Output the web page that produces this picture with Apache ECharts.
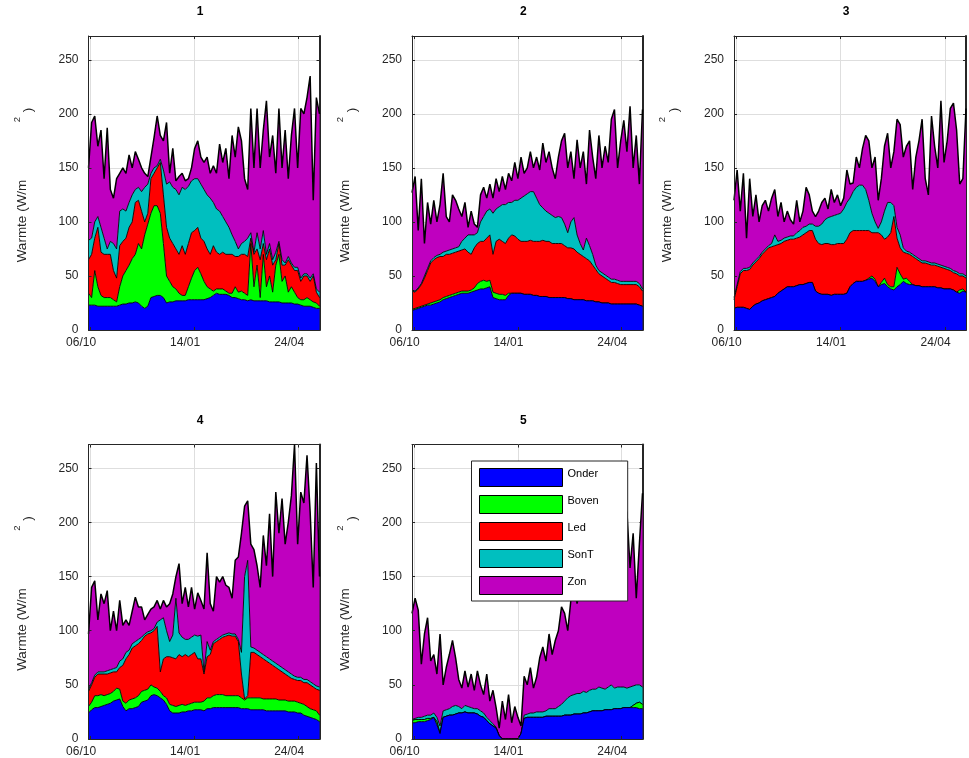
<!DOCTYPE html>
<html><head><meta charset="utf-8">
<script src="https://cdn.jsdelivr.net/npm/echarts@6/dist/echarts.min.js"></script>
<style>html,body{margin:0;padding:0;background:#fff}#chart{width:969px;height:758px}</style>
</head><body><div id="chart"></div>
<script>
// x positions: days relative to 06/10, sampled every 3 days
const startDay = -2;
const stepDays = 3;
const xMin = -2, xMax = 220;
const xTickDays = [0, 100, 200];
const xTickLabels = {0: '06/10', 100: '14/01', 200: '24/04'};
const yMin = 0, yMax = 272;
const yTicks = [0, 50, 100, 150, 200, 250];
const seriesNames = ['Onder', 'Boven', 'Led', 'SonT', 'Zon'];
const seriesColors = ['#0000ff', '#00ff00', '#ff0000', '#00bfbf', '#bf00bf'];
const panelTitles = ['1', '2', '3', '4', '5'];
const yLabelMain = 'Warmte (W/m';

// ---- panel 1 ----
const p1Onder = [23,23,23,22,22,22,22,22,22,22,23,24,24,25,25,26,25,22,20,22,30,31,32,32,30,25,26,26,27,27,27,27,28,28,28,28,28,28,29,30,32,34,33,33,33,32,30,30,29,28,28,27,28,27,27,27,27,27,26,26,26,26,25,25,25,25,24,24,23,22,22,22,21,20,20];
const p1Boven = [11,7,32,18,10,8,8,8,6,4,17,26,31,35,41,44,55,53,68,76,78,84,83,76,50,25,19,14,11,7,5,5,12,20,27,30,24,17,11,8,4,4,5,5,3,2,4,10,6,8,6,5,52,13,33,3,43,13,24,9,34,44,20,25,10,15,11,6,5,6,8,6,5,5,2];
const p1Led = [31,40,30,55,40,40,40,40,27,22,38,32,30,35,34,48,40,35,12,10,32,30,35,47,45,45,40,40,37,36,46,38,40,42,37,37,33,37,35,32,42,34,32,34,34,36,36,28,33,34,36,36,5,30,15,35,10,25,25,25,5,10,15,10,30,20,20,25,17,22,20,17,24,10,8];
const p1SonT = [18,15,15,10,23,15,5,12,25,27,32,30,25,23,25,12,12,18,32,27,5,5,2,3,23,40,52,52,55,55,54,60,53,48,48,45,50,48,50,52,40,40,40,33,30,25,18,14,7,10,12,17,5,2,15,10,12,5,5,5,7,2,5,2,3,2,3,3,3,2,2,3,2,3,5];
const p1Zon = [67,107,98,65,90,55,112,48,42,65,35,38,35,44,25,35,26,22,13,7,15,28,46,22,27,57,8,36,8,17,13,8,7,12,28,35,25,25,35,23,34,33,62,50,68,45,92,78,113,95,58,45,115,78,115,75,93,142,80,115,73,123,85,123,72,118,147,92,157,148,163,187,68,177,165];

// ---- panel 2 ----
const p2Onder = [18,19,20,21,22,23,23,24,25,26,28,29,30,31,32,33,34,34,34,35,36,37,38,38,39,40,30,29,28,28,28,32,34,34,34,34,33,33,33,32,32,31,31,31,30,30,30,30,30,30,29,29,28,28,28,28,27,27,27,26,26,25,25,25,24,24,24,24,24,24,24,24,24,23,22];
const p2Boven = [1,1,1,1,1,1,2,2,2,2,2,2,2,2,2,2,2,2,2,2,3,6,7,8,6,6,5,5,5,5,4,2,0,0,0,0,0,0,0,0,0,0,0,0,0,0,0,0,0,0,0,0,0,0,0,0,0,0,0,0,0,0,0,0,0,0,0,0,0,0,0,0,0,0,0];
const p2Led = [17,15,17,20,25,31,37,39,40,40,38,39,38,38,38,38,38,39,36,33,37,37,37,36,40,42,35,48,51,49,48,51,54,53,50,48,49,49,50,50,50,51,52,51,52,50,50,50,50,48,47,47,47,44,42,40,39,37,33,30,26,25,23,21,20,20,19,18,18,18,18,18,18,17,14];
const p2SonT = [1,1,1,1,2,2,2,2,2,2,4,3,4,4,4,4,8,10,16,18,12,10,18,23,25,24,38,30,30,34,36,33,30,33,36,40,42,44,45,46,40,34,30,28,26,26,24,25,24,20,14,24,29,16,10,6,19,14,10,4,3,3,3,3,3,3,3,3,3,3,3,3,3,3,2];
const p2Zon = [90,106,53,97,30,61,34,53,31,46,73,32,26,50,44,35,23,33,7,22,10,5,25,27,12,23,14,28,14,26,14,27,20,35,20,38,21,24,37,22,38,32,60,45,57,44,36,55,71,84,60,65,36,88,70,91,50,107,90,80,125,97,119,106,148,157,104,130,149,120,162,105,135,92,166];

// ---- panel 3 ----
const p3Onder = [20,21,21,21,20,19,22,24,25,27,28,29,30,31,34,36,38,40,40,40,41,42,42,43,44,44,36,34,33,33,33,32,33,33,33,33,34,40,43,45,45,45,46,47,48,45,40,42,43,40,38,37,40,42,45,43,42,42,41,41,40,40,40,40,40,39,39,38,38,38,37,35,34,36,35];
const p3Boven = [0,0,0,0,0,0,0,0,0,0,0,0,0,0,0,0,0,0,0,0,0,0,0,0,0,0,0,0,0,0,0,0,0,0,0,0,0,0,0,0,0,0,0,1,2,2,0,2,5,2,2,3,18,10,2,5,3,0,0,0,0,0,0,0,0,0,0,0,0,0,0,0,3,2,0];
const p3Led = [8,19,31,34,35,37,38,39,41,43,45,47,47,47,45,44,44,43,44,44,44,44,46,47,48,48,48,46,46,47,47,47,46,47,47,47,50,50,49,47,47,47,46,44,40,43,50,44,36,44,50,65,27,24,25,23,25,26,25,23,22,22,21,20,20,20,19,19,18,17,16,17,13,12,13];
const p3SonT = [2,2,2,2,2,2,2,2,2,2,2,2,3,10,3,3,3,3,3,3,5,6,7,6,6,6,12,16,19,22,24,26,27,27,28,32,34,32,36,40,42,42,38,28,18,10,4,12,26,32,28,10,10,12,4,2,2,2,2,2,2,2,2,2,2,2,2,2,2,2,2,2,2,2,2];
const p3Zon = [90,106,56,88,28,82,43,60,32,43,45,32,42,42,23,35,15,24,15,11,30,8,15,36,27,12,9,14,20,20,8,25,12,18,7,10,30,13,8,28,16,34,50,55,42,60,26,40,60,64,32,50,100,102,84,97,103,60,92,109,131,76,62,136,108,89,152,96,117,148,155,131,83,88,155];

// ---- panel 4 ----
const p4Onder = [24,27,29,29,30,31,32,33,35,36,37,30,26,28,28,29,30,34,35,36,40,41,40,38,36,32,26,24,24,24,25,25,26,26,27,27,27,26,28,28,29,29,29,29,29,29,29,29,29,28,28,28,27,27,27,27,27,26,26,26,26,26,26,26,25,25,25,24,24,22,21,20,19,18,16];
const p4Boven = [6,7,11,11,11,9,9,9,9,11,9,5,7,8,9,9,10,10,10,10,10,7,7,6,4,6,6,7,6,7,7,6,6,7,7,7,7,9,10,10,11,12,12,12,11,11,11,11,11,10,8,10,11,11,11,11,10,11,11,11,11,10,10,10,10,10,10,10,9,10,9,8,8,8,6];
const p4Led = [14,16,17,20,19,20,19,19,18,15,20,33,41,42,47,48,48,47,50,51,48,52,57,18,34,38,44,44,44,47,44,47,44,45,46,40,40,25,38,40,48,49,51,53,55,56,55,55,50,22,1,2,42,42,40,38,37,35,33,31,29,28,26,24,23,21,20,20,21,20,22,22,21,20,23];
const p4SonT = [2,2,2,2,2,2,3,3,3,4,6,6,6,4,4,4,4,3,2,2,2,2,4,48,38,24,14,21,56,20,18,14,16,16,16,21,22,2,14,4,2,2,2,2,2,2,2,2,2,20,113,125,5,4,4,4,4,4,4,4,4,4,4,4,4,4,3,3,3,3,3,3,3,3,3];
const p4Zon = [51,88,87,48,72,63,74,36,53,34,56,31,30,23,30,41,30,28,13,16,20,20,20,10,16,22,35,38,20,64,31,48,30,46,24,40,32,58,82,43,28,58,51,54,45,42,33,68,76,110,65,55,95,91,78,60,110,84,134,78,158,122,156,116,138,165,214,123,171,163,207,157,89,206,102];

// ---- panel 5 ----
const p5Onder = [15,15,16,16,16,17,18,20,13,5,20,21,22,22,23,24,24,25,24,24,24,23,21,20,17,14,12,10,3,0,0,0,0,0,0,5,19,20,20,20,20,20,20,21,21,21,21,21,21,22,22,22,23,23,23,24,24,25,26,26,26,26,27,27,27,28,28,28,29,29,29,29,29,28,28];
const p5Boven = [2,3,2,2,2,2,1,0,3,0,0,0,0,0,0,0,0,0,0,0,0,0,0,0,0,0,0,0,0,0,0,0,0,0,0,0,0,0,0,0,0,0,0,0,0,0,0,0,0,0,0,0,0,0,0,0,0,0,0,0,0,0,0,0,0,0,0,0,0,0,0,2,4,6,4];
const p5Led = [0,0,0,0,0,0,0,0,0,0,0,0,0,0,0,0,0,0,0,0,0,0,0,0,0,0,0,0,0,0,0,0,0,0,0,0,0,0,0,0,0,0,0,0,0,0,0,0,0,0,0,0,0,0,0,0,0,0,0,0,0,0,0,0,0,0,0,0,0,0,0,0,0,0,0];
const p5SonT = [1,1,2,2,3,3,3,4,4,7,6,6,6,8,8,6,4,6,6,5,4,5,5,4,3,3,2,1,0,0,0,0,0,0,0,0,3,3,4,4,5,5,5,5,7,7,7,9,11,13,16,18,18,19,19,20,19,20,20,20,22,21,19,21,23,19,20,20,19,18,19,18,17,16,16];
const p5Zon = [98,111,99,49,76,90,50,54,40,85,24,39,50,61,44,25,19,32,18,31,17,35,24,17,40,18,31,18,7,35,18,41,15,30,20,7,36,27,42,23,32,50,60,46,69,50,63,70,90,81,62,88,99,83,98,86,91,105,119,104,127,113,139,122,140,113,132,152,127,163,110,141,80,130,179];

const panels = [
  [p1Onder, p1Boven, p1Led, p1SonT, p1Zon],
  [p2Onder, p2Boven, p2Led, p2SonT, p2Zon],
  [p3Onder, p3Boven, p3Led, p3SonT, p3Zon],
  [p4Onder, p4Boven, p4Led, p4SonT, p4Zon],
  [p5Onder, p5Boven, p5Led, p5SonT, p5Zon]
];

// ---- layout (pixels) ----
const FONT = '"Liberation Sans", Arial, Helvetica, sans-serif';
const TXT = '#262626';
const GRIDC = '#dedede';
const layout = [
  {left: 88.5, top: 36, width: 231, height: 294},
  {left: 412, top: 36, width: 230.5, height: 294},
  {left: 734, top: 36, width: 232, height: 294},
  {left: 88.5, top: 444.5, width: 231, height: 294.5},
  {left: 412, top: 444.5, width: 230.5, height: 294.5}
];
const tickLenUnits = 2.8; // ~3 px inward tick marks, in y units

const option = {
  animation: false,
  backgroundColor: '#ffffff',
  textStyle: {fontFamily: FONT},
  grid: [], xAxis: [], yAxis: [], series: [], graphic: [],
  legend: {
    show: true,
    data: seriesNames,
    orient: 'vertical',
    left: 471.5, top: 461,
    z: 30,
    icon: 'rect',
    itemWidth: 83, itemHeight: 18, itemGap: 8,
    padding: [7, 29, 6, 7.5],
    backgroundColor: '#ffffff',
    borderColor: TXT, borderWidth: 1, borderRadius: 0,
    itemStyle: {borderColor: '#000000', borderWidth: 1},
    formatter: name => '{t|' + name + '}',
    textStyle: {
      fontFamily: FONT, fontSize: 11, color: '#000000',
      rich: {t: {fontFamily: FONT, fontSize: 11, color: '#000000', padding: [0, 0, 7, 0]}}
    },
    selectedMode: false
  }
};

panels.forEach((layers, p) => {
  const g = layout[p];
  option.grid.push({left: g.left, top: g.top, width: g.width, height: g.height, containLabel: false});
  // x: interval 2 so that ticks counted from min (-2) include 0, 100, 200
  const xb = {gridIndex: p, type: 'value', min: xMin, max: xMax, interval: 2};
  const yb = {gridIndex: p, type: 'value', min: yMin, max: yMax, interval: 50};
  const xMainIdx = option.xAxis.length;
  option.xAxis.push(Object.assign({}, xb, {
    position: 'bottom', z: 10,
    axisLine: {show: true, onZero: false, lineStyle: {color: TXT, width: 1}},
    axisTick: {show: false},
    splitLine: {show: false},
    axisLabel: {
      show: true, margin: 7, fontSize: 12, color: TXT, fontFamily: FONT,
      hideOverlap: false,
      formatter: v => (xTickLabels[v] !== undefined ? '{s|' + xTickLabels[v] + '}' : ''),
      rich: {s: {fontSize: 12, color: TXT, fontFamily: FONT, padding: [0, 19, 0, 0]}}
    }
  }));
  option.xAxis.push(Object.assign({}, xb, {
    position: 'top', z: 0,
    axisLine: {show: true, onZero: false, lineStyle: {color: TXT, width: 1}},
    axisTick: {show: false},
    splitLine: {show: false},
    axisLabel: {show: false}
  }));
  const yMainIdx = option.yAxis.length;
  option.yAxis.push(Object.assign({}, yb, {
    position: 'left', z: 10,
    axisLine: {show: true, onZero: false, lineStyle: {color: TXT, width: 1}},
    axisTick: {show: true, inside: true, length: 3, lineStyle: {color: TXT}},
    splitLine: {show: false},
    axisLabel: {
      show: true, margin: 10, fontSize: 12, color: TXT, fontFamily: FONT,
      padding: [0, 0, 10, 0], showMaxLabel: false,
      formatter: v => (yTicks.indexOf(v) >= 0 ? String(v) : '')
    }
  }));
  option.yAxis.push(Object.assign({}, yb, {
    position: 'right', z: 0,
    axisLine: {show: true, onZero: false, lineStyle: {color: TXT, width: 2}},
    axisTick: {show: true, inside: true, length: 3, lineStyle: {color: TXT}},
    splitLine: {show: true, lineStyle: {color: GRIDC, width: 1}},
    axisLabel: {show: false}
  }));

  // vertical grid lines at the date ticks (under the areas)
  option.series.push({
    type: 'line', xAxisIndex: xMainIdx, yAxisIndex: yMainIdx, z: 1, silent: true,
    data: [], symbol: 'none',
    markLine: {
      z: 1, silent: true, symbol: ['none', 'none'], label: {show: false}, animation: false,
      lineStyle: {color: GRIDC, width: 1, type: 'solid'},
      emphasis: {disabled: true},
      data: xTickDays.map(d => ({xAxis: d}))
    }
  });

  layers.forEach((vals, k) => {
    option.series.push({
      type: 'line',
      name: seriesNames[k],
      xAxisIndex: xMainIdx,
      yAxisIndex: yMainIdx,
      stack: 'panel' + p,
      z: 8 - k,
      // value first so that ECharts stacks the value dimension (y), day second (x)
      dimensions: ['value', 'day'],
      encode: {x: 1, y: 0},
      data: vals.map((v, j) => [v, startDay + j * stepDays]),
      showSymbol: false,
      symbol: 'none',
      color: seriesColors[k],
      itemStyle: {color: seriesColors[k]},
      lineStyle: {color: '#000000', width: k === 4 ? 1.5 : 0.9},
      areaStyle: {color: seriesColors[k], opacity: 1},
      emphasis: {disabled: true},
      silent: true
    });
  });

  // inward tick marks at the date ticks, bottom and top (above the areas)
  const tickSegs = [];
  xTickDays.forEach(d => {
    tickSegs.push([{coord: [d, yMin]}, {coord: [d, yMin + tickLenUnits]}]);
    tickSegs.push([{coord: [d, yMax]}, {coord: [d, yMax - tickLenUnits]}]);
  });
  option.series.push({
    type: 'line', xAxisIndex: xMainIdx, yAxisIndex: yMainIdx, z: 12, silent: true,
    data: [], symbol: 'none',
    markLine: {
      z: 12, silent: true, symbol: ['none', 'none'], label: {show: false}, animation: false,
      lineStyle: {color: TXT, width: 1, type: 'solid'},
      emphasis: {disabled: true},
      data: tickSegs
    }
  });

  // titles and y-axis labels (MATLAB-style broken superscript)
  const cx = g.left + g.width / 2 - 4;
  const dx = g.left - 88.5;
  const dy = g.top - 36;
  option.graphic.push({
    type: 'text', x: cx, y: 12 + dy, z: 50,
    style: {text: panelTitles[p], font: 'bold 12px ' + FONT, fill: '#000000', align: 'center', verticalAlign: 'middle'}
  });
  option.graphic.push({
    type: 'text', x: 22 + dx, y: 221 + dy, rotation: Math.PI / 2, z: 50,
    style: {text: yLabelMain, font: '13.5px ' + FONT, fill: TXT, align: 'center', verticalAlign: 'middle'}
  });
  option.graphic.push({
    type: 'text', x: 17 + dx, y: 119.5 + dy, rotation: Math.PI / 2, z: 50,
    style: {text: '2', font: '9.5px ' + FONT, fill: TXT, align: 'center', verticalAlign: 'middle'}
  });
  option.graphic.push({
    type: 'text', x: 28.5 + dx, y: 110 + dy, rotation: Math.PI / 2, z: 50,
    style: {text: ')', font: '13.5px ' + FONT, fill: TXT, align: 'center', verticalAlign: 'middle'}
  });
});

const chart = echarts.init(document.getElementById('chart'), null, {renderer: 'canvas'});
chart.setOption(option);
</script></body></html>
